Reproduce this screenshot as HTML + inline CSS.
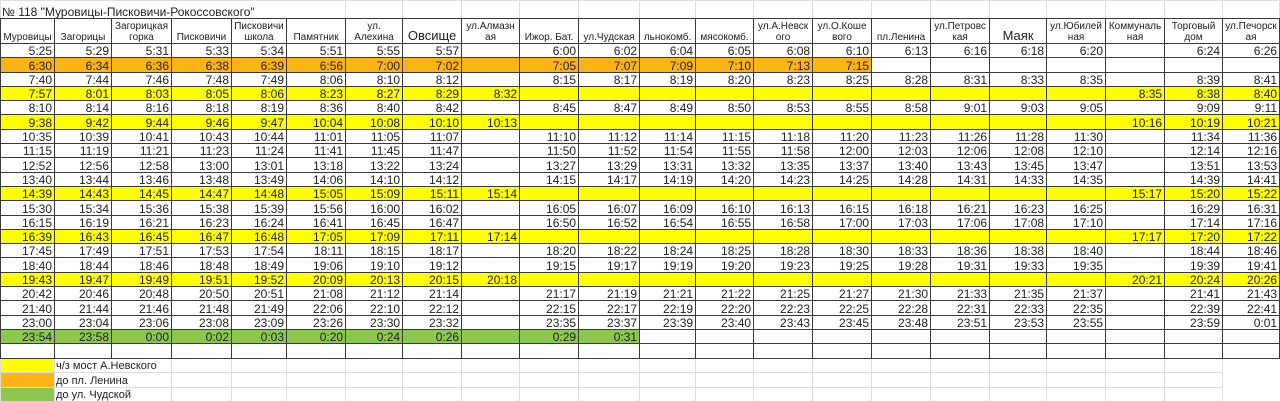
<!DOCTYPE html>
<html><head><meta charset="utf-8"><style>
html,body{margin:0;padding:0;background:#fff;width:1280px;height:401px;overflow:hidden}
table{border-collapse:collapse;table-layout:fixed;width:1279px;font-family:"Liberation Sans",Arial,sans-serif;color:#222}
td{border:1px solid #3a3a3a;padding:0 2px 0 1px;text-align:right;font-size:12px;line-height:12px;white-space:nowrap;overflow:hidden;vertical-align:bottom}
tr.d td{height:13.3px}
tr.h td{height:24px;font-size:10px;line-height:11px;text-align:center;white-space:nowrap;padding:0}
tr.h td.big{font-size:13px;line-height:14px}
tr.t td{border:1px solid #dcdcdc;border-bottom:1px solid #3a3a3a;height:17px;text-align:left;font-size:12px}
tr.l td{border:1px solid #dcdcdc;height:13.2px;font-size:11px;text-align:left}
.y td{background:#ffff00}
.o td{background:#fcb414}
.g{background:#8cc84f}
.w{background:#fff!important}
</style></head><body>
<table>
<colgroup>
<col style="width:54px"><col style="width:57px"><col style="width:60px"><col style="width:60px"><col style="width:55px"><col style="width:59px"><col style="width:57px"><col style="width:59px"><col style="width:58px"><col style="width:59px"><col style="width:61px"><col style="width:56px"><col style="width:58px"><col style="width:59px"><col style="width:59px"><col style="width:59px"><col style="width:59px"><col style="width:57px"><col style="width:59px"><col style="width:59px"><col style="width:58px"><col style="width:57px">
</colgroup>
<tr class="t"><td colspan="6" style="border-right-color:#dcdcdc">№ 118 "Муровицы-Писковичи-Рокоссовского"</td><td></td><td></td><td></td><td></td><td></td><td></td><td></td><td></td><td></td><td></td><td></td><td></td><td></td><td></td><td></td><td></td></tr>
<tr class="h"><td>Муровицы</td><td>Загорицы</td><td>Загорицкая<br>горка</td><td>Писковичи</td><td>Писковичи<br>школа</td><td>Памятник</td><td>ул.<br>Алехина</td><td class="big">Овсище</td><td>ул.Алмазн<br>ая</td><td>Ижор. Бат.</td><td>ул.Чудская</td><td>льнокомб.</td><td>мясокомб.</td><td>ул.А.Невск<br>ого</td><td>ул.О.Коше<br>вого</td><td>пл.Ленина</td><td>ул.Петровс<br>кая</td><td class="big">Маяк</td><td>ул.Юбилей<br>ная</td><td>Коммуналь<br>ная</td><td>Торговый<br>дом</td><td>ул.Печорск<br>ая</td></tr>
<tr class="d"><td>5:25</td><td>5:29</td><td>5:31</td><td>5:33</td><td>5:34</td><td>5:51</td><td>5:55</td><td>5:57</td><td></td><td>6:00</td><td>6:02</td><td>6:04</td><td>6:05</td><td>6:08</td><td>6:10</td><td>6:13</td><td>6:16</td><td>6:18</td><td>6:20</td><td></td><td>6:24</td><td>6:26</td></tr>
<tr class="d o"><td>6:30</td><td>6:34</td><td>6:36</td><td>6:38</td><td>6:39</td><td>6:56</td><td>7:00</td><td>7:02</td><td></td><td>7:05</td><td>7:07</td><td>7:09</td><td>7:10</td><td>7:13</td><td>7:15</td><td class="w"></td><td class="w"></td><td class="w"></td><td class="w"></td><td class="w"></td><td class="w"></td><td class="w"></td></tr>
<tr class="d"><td>7:40</td><td>7:44</td><td>7:46</td><td>7:48</td><td>7:49</td><td>8:06</td><td>8:10</td><td>8:12</td><td></td><td>8:15</td><td>8:17</td><td>8:19</td><td>8:20</td><td>8:23</td><td>8:25</td><td>8:28</td><td>8:31</td><td>8:33</td><td>8:35</td><td></td><td>8:39</td><td>8:41</td></tr>
<tr class="d y"><td>7:57</td><td>8:01</td><td>8:03</td><td>8:05</td><td>8:06</td><td>8:23</td><td>8:27</td><td>8:29</td><td>8:32</td><td></td><td></td><td></td><td></td><td></td><td></td><td></td><td></td><td></td><td></td><td>8:35</td><td>8:38</td><td>8:40</td></tr>
<tr class="d"><td>8:10</td><td>8:14</td><td>8:16</td><td>8:18</td><td>8:19</td><td>8:36</td><td>8:40</td><td>8:42</td><td></td><td>8:45</td><td>8:47</td><td>8:49</td><td>8:50</td><td>8:53</td><td>8:55</td><td>8:58</td><td>9:01</td><td>9:03</td><td>9:05</td><td></td><td>9:09</td><td>9:11</td></tr>
<tr class="d y"><td>9:38</td><td>9:42</td><td>9:44</td><td>9:46</td><td>9:47</td><td>10:04</td><td>10:08</td><td>10:10</td><td>10:13</td><td></td><td></td><td></td><td></td><td></td><td></td><td></td><td></td><td></td><td></td><td>10:16</td><td>10:19</td><td>10:21</td></tr>
<tr class="d"><td>10:35</td><td>10:39</td><td>10:41</td><td>10:43</td><td>10:44</td><td>11:01</td><td>11:05</td><td>11:07</td><td></td><td>11:10</td><td>11:12</td><td>11:14</td><td>11:15</td><td>11:18</td><td>11:20</td><td>11:23</td><td>11:26</td><td>11:28</td><td>11:30</td><td></td><td>11:34</td><td>11:36</td></tr>
<tr class="d"><td>11:15</td><td>11:19</td><td>11:21</td><td>11:23</td><td>11:24</td><td>11:41</td><td>11:45</td><td>11:47</td><td></td><td>11:50</td><td>11:52</td><td>11:54</td><td>11:55</td><td>11:58</td><td>12:00</td><td>12:03</td><td>12:06</td><td>12:08</td><td>12:10</td><td></td><td>12:14</td><td>12:16</td></tr>
<tr class="d"><td>12:52</td><td>12:56</td><td>12:58</td><td>13:00</td><td>13:01</td><td>13:18</td><td>13:22</td><td>13:24</td><td></td><td>13:27</td><td>13:29</td><td>13:31</td><td>13:32</td><td>13:35</td><td>13:37</td><td>13:40</td><td>13:43</td><td>13:45</td><td>13:47</td><td></td><td>13:51</td><td>13:53</td></tr>
<tr class="d"><td>13:40</td><td>13:44</td><td>13:46</td><td>13:48</td><td>13:49</td><td>14:06</td><td>14:10</td><td>14:12</td><td></td><td>14:15</td><td>14:17</td><td>14:19</td><td>14:20</td><td>14:23</td><td>14:25</td><td>14:28</td><td>14:31</td><td>14:33</td><td>14:35</td><td></td><td>14:39</td><td>14:41</td></tr>
<tr class="d y"><td>14:39</td><td>14:43</td><td>14:45</td><td>14:47</td><td>14:48</td><td>15:05</td><td>15:09</td><td>15:11</td><td>15:14</td><td></td><td></td><td></td><td></td><td></td><td></td><td></td><td></td><td></td><td></td><td>15:17</td><td>15:20</td><td>15:22</td></tr>
<tr class="d"><td>15:30</td><td>15:34</td><td>15:36</td><td>15:38</td><td>15:39</td><td>15:56</td><td>16:00</td><td>16:02</td><td></td><td>16:05</td><td>16:07</td><td>16:09</td><td>16:10</td><td>16:13</td><td>16:15</td><td>16:18</td><td>16:21</td><td>16:23</td><td>16:25</td><td></td><td>16:29</td><td>16:31</td></tr>
<tr class="d"><td>16:15</td><td>16:19</td><td>16:21</td><td>16:23</td><td>16:24</td><td>16:41</td><td>16:45</td><td>16:47</td><td></td><td>16:50</td><td>16:52</td><td>16:54</td><td>16:55</td><td>16:58</td><td>17:00</td><td>17:03</td><td>17:06</td><td>17:08</td><td>17:10</td><td></td><td>17:14</td><td>17:16</td></tr>
<tr class="d y"><td>16:39</td><td>16:43</td><td>16:45</td><td>16:47</td><td>16:48</td><td>17:05</td><td>17:09</td><td>17:11</td><td>17:14</td><td></td><td></td><td></td><td></td><td></td><td></td><td></td><td></td><td></td><td></td><td>17:17</td><td>17:20</td><td>17:22</td></tr>
<tr class="d"><td>17:45</td><td>17:49</td><td>17:51</td><td>17:53</td><td>17:54</td><td>18:11</td><td>18:15</td><td>18:17</td><td></td><td>18:20</td><td>18:22</td><td>18:24</td><td>18:25</td><td>18:28</td><td>18:30</td><td>18:33</td><td>18:36</td><td>18:38</td><td>18:40</td><td></td><td>18:44</td><td>18:46</td></tr>
<tr class="d"><td>18:40</td><td>18:44</td><td>18:46</td><td>18:48</td><td>18:49</td><td>19:06</td><td>19:10</td><td>19:12</td><td></td><td>19:15</td><td>19:17</td><td>19:19</td><td>19:20</td><td>19:23</td><td>19:25</td><td>19:28</td><td>19:31</td><td>19:33</td><td>19:35</td><td></td><td>19:39</td><td>19:41</td></tr>
<tr class="d y"><td>19:43</td><td>19:47</td><td>19:49</td><td>19:51</td><td>19:52</td><td>20:09</td><td>20:13</td><td>20:15</td><td>20:18</td><td></td><td></td><td></td><td></td><td></td><td></td><td></td><td></td><td></td><td></td><td>20:21</td><td>20:24</td><td>20:26</td></tr>
<tr class="d"><td>20:42</td><td>20:46</td><td>20:48</td><td>20:50</td><td>20:51</td><td>21:08</td><td>21:12</td><td>21:14</td><td></td><td>21:17</td><td>21:19</td><td>21:21</td><td>21:22</td><td>21:25</td><td>21:27</td><td>21:30</td><td>21:33</td><td>21:35</td><td>21:37</td><td></td><td>21:41</td><td>21:43</td></tr>
<tr class="d"><td>21:40</td><td>21:44</td><td>21:46</td><td>21:48</td><td>21:49</td><td>22:06</td><td>22:10</td><td>22:12</td><td></td><td>22:15</td><td>22:17</td><td>22:19</td><td>22:20</td><td>22:23</td><td>22:25</td><td>22:28</td><td>22:31</td><td>22:33</td><td>22:35</td><td></td><td>22:39</td><td>22:41</td></tr>
<tr class="d"><td>23:00</td><td>23:04</td><td>23:06</td><td>23:08</td><td>23:09</td><td>23:26</td><td>23:30</td><td>23:32</td><td></td><td>23:35</td><td>23:37</td><td>23:39</td><td>23:40</td><td>23:43</td><td>23:45</td><td>23:48</td><td>23:51</td><td>23:53</td><td>23:55</td><td></td><td>23:59</td><td>0:01</td></tr>
<tr class="d"><td class="g">23:54</td><td class="g">23:58</td><td class="g">0:00</td><td class="g">0:02</td><td class="g">0:03</td><td class="g">0:20</td><td class="g">0:24</td><td class="g">0:26</td><td class="g"></td><td class="g">0:29</td><td class="g">0:31</td><td></td><td></td><td></td><td></td><td></td><td></td><td></td><td></td><td></td><td></td><td></td></tr>
<tr class="d"><td style="height:14px"></td><td></td><td></td><td></td><td></td><td></td><td></td><td></td><td></td><td></td><td></td><td></td><td></td><td></td><td></td><td></td><td></td><td></td><td></td><td></td><td></td><td></td></tr>
<tr class="l"><td style="background:#ffff00"></td><td colspan="2" style="border-right-color:#dcdcdc;overflow:visible">ч/з мост А.Невского</td><td></td><td></td><td></td><td></td><td></td><td></td><td></td><td></td><td></td><td></td><td></td><td></td><td></td><td></td><td></td><td></td><td></td><td></td></tr>
<tr class="l"><td style="background:#fcb414"></td><td colspan="2" style="border-right-color:#dcdcdc">до пл. Ленина</td><td></td><td></td><td></td><td></td><td></td><td></td><td></td><td></td><td></td><td></td><td></td><td></td><td></td><td></td><td></td><td></td><td></td><td></td></tr>
<tr class="l"><td style="background:#8cc84f"></td><td colspan="2" style="border-right-color:#dcdcdc">до ул. Чудской</td><td></td><td></td><td></td><td></td><td></td><td></td><td></td><td></td><td></td><td></td><td></td><td></td><td></td><td></td><td></td><td></td><td></td><td></td></tr>
</table>
</body></html>
